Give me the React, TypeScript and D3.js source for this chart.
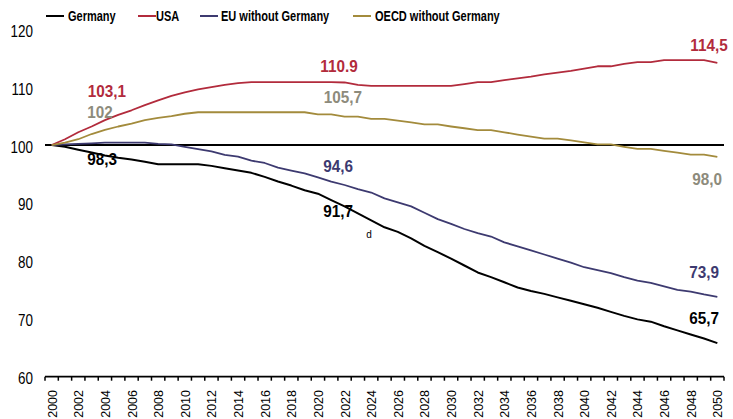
import React from "react";
import * as d3 from "d3";

const years: number[] = d3.range(2000, 2051);

const germany: number[] = [
  100, 99.7, 99.2, 98.7, 98.2, 97.8, 97.5, 97.1, 96.7, 96.7,
  96.7, 96.7, 96.4, 96.0, 95.6, 95.2, 94.5, 93.7, 93.0, 92.2,
  91.6, 90.5, 89.4, 88.2, 87.0, 85.8, 85.0, 83.9, 82.6, 81.5,
  80.4, 79.2, 78.0, 77.2, 76.3, 75.4, 74.8, 74.3, 73.7, 73.1,
  72.5, 71.9, 71.2, 70.5, 69.9, 69.5, 68.7, 68.0, 67.3, 66.6, 65.8,
];

const usa: number[] = [
  100, 101.0, 102.2, 103.2, 104.3, 105.2, 106.0, 106.9, 107.7, 108.5,
  109.1, 109.6, 110.0, 110.4, 110.7, 110.85, 110.85, 110.85, 110.85, 110.85,
  110.85, 110.85, 110.8, 110.4, 110.2, 110.2, 110.2, 110.2, 110.2, 110.2,
  110.2, 110.5, 110.85, 110.85, 111.2, 111.5, 111.8, 112.2, 112.5, 112.8,
  113.2, 113.6, 113.6, 114.0, 114.3, 114.3, 114.65, 114.65, 114.65, 114.65, 114.2,
];

const euWithoutGermany: number[] = [
  100, 100.1, 100.2, 100.3, 100.4, 100.4, 100.4, 100.4, 100.2, 100.1,
  99.7, 99.3, 98.9, 98.3, 98.0, 97.3, 96.9, 96.1, 95.6, 95.1,
  94.4, 93.7, 93.1, 92.4, 91.8, 90.8, 90.1, 89.4, 88.3, 87.2,
  86.4, 85.5, 84.8, 84.2, 83.2, 82.5, 81.8, 81.1, 80.4, 79.7,
  78.9, 78.4, 77.9, 77.2, 76.6, 76.2, 75.6, 75.0, 74.7, 74.2, 73.8,
];

const oecdWithoutGermany: number[] = [
  100, 100.4, 101.0, 101.9, 102.6, 103.2, 103.7, 104.3, 104.7, 105.0,
  105.4, 105.66, 105.66, 105.66, 105.66, 105.66, 105.66, 105.66, 105.66, 105.66,
  105.3, 105.3, 104.9, 104.9, 104.5, 104.5, 104.2, 103.9, 103.55, 103.55,
  103.2, 102.9, 102.56, 102.56, 102.2, 101.8, 101.45, 101.1, 101.1, 100.8,
  100.45, 100.1, 100.1, 99.7, 99.35, 99.35, 99.0, 98.7, 98.35, 98.35, 97.96,
];

const yTicks: number[] = [60, 70, 80, 90, 100, 110, 120];
const xTickYears: number[] = d3.range(2000, 2051, 2);

const seriesNames: string[] = ["Germany", "USA", "EU without Germany", "OECD without Germany"];
const seriesData: number[][] = [germany, usa, euWithoutGermany, oecdWithoutGermany];
const seriesColors: string[] = ["#000000", "#b22b3c", "#3d3a70", "#a38b3c"];
const seriesWidths: number[] = [2, 1.8, 1.8, 1.8];

const annotationTexts: string[] = ["103,1", "102", "98,3", "110.9", "105,7", "94,6", "91,7", "114,5", "98,0", "73,9", "65,7"];
const annotationColors: string[] = [
  "#b22b3c", "#8d8b7c", "#000000", "#b22b3c", "#8d8b7c", "#3d3a70", "#000000",
  "#b22b3c", "#8d8b7c", "#3d3a70", "#000000",
];

// label anchor positions (centre x, baseline y) in pixels
const labelPos: [number, number][] = [
  [107, 97], [100, 118], [102, 165], [339, 72], [343, 103], [338, 172], [338, 217],
  [709, 51], [707, 185], [704, 278], [704, 324],
];

const W = 733;
const H = 419;
const left = 45;
const right = 724;
const yTop = 29.2;
const yBottom = 376.7;
const FONT = "'Liberation Sans', Arial, sans-serif";
const SX = 0.84;

export default function App() {
  const x = d3.scaleBand<number>().domain(years).range([left, right]).paddingInner(0).paddingOuter(0);
  const y = d3.scaleLinear().domain([60, 120]).range([yBottom, yTop]);
  const cx = (yr: number) => (x(yr) as number) + x.bandwidth() / 2;

  const line = d3
    .line<number>()
    .x((_, i) => cx(years[i]))
    .y((d) => y(d));

  const tickPositions = d3.range(0, years.length + 1).map((k) => left + k * x.bandwidth());

  const legendItems = [
    { lx: 46, tx: 68 },
    { lx: 138, tx: 156 },
    { lx: 200, tx: 221 },
    { lx: 353, tx: 375 },
  ];

  return (
    <svg
      width={W}
      height={H}
      style={{ position: "absolute", left: 0, top: 0, background: "#ffffff" }}
      fontFamily={FONT}
    >
      {/* Legend */}
      {seriesNames.map((name, i) => (
        <g key={name}>
          <line
            x1={legendItems[i].lx}
            x2={legendItems[i].lx + 18}
            y1={16}
            y2={16}
            stroke={seriesColors[i]}
            strokeWidth={2}
          />
          <text
            transform={`translate(${legendItems[i].tx},${21}) scale(0.76,1)`}
            fontSize={14.5}
            fontWeight="bold"
            fill="#000"
          >
            {name}
          </text>
        </g>
      ))}

      {/* Y tick labels */}
      {yTicks.map((t) => (
        <text
          key={t}
          transform={`translate(33,${y(t) + 7.5}) scale(${SX},1)`}
          textAnchor="end"
          fontSize={16}
          fill="#000"
        >
          {t}
        </text>
      ))}

      {/* X axis */}
      <line x1={left} x2={right} y1={yBottom} y2={yBottom} stroke="#000" strokeWidth={1.8} />
      {tickPositions.map((p, k) => (
        <line key={k} x1={p} x2={p} y1={yBottom} y2={yBottom + 4} stroke="#000" strokeWidth={1.5} />
      ))}
      {xTickYears.map((yr) => (
        <text
          key={yr}
          transform={`translate(${cx(yr) + 5},390) rotate(-90)`}
          textAnchor="end"
          fontSize={12.5}
          fill="#000"
        >
          {yr}
        </text>
      ))}

      {/* Reference line at 100 */}
      <line x1={left} x2={right} y1={y(100)} y2={y(100)} stroke="#000" strokeWidth={2} />

      {/* Series lines */}
      {seriesData.map((d, i) => (
        <path
          key={seriesNames[i]}
          d={line(d) as string}
          fill="none"
          stroke={seriesColors[i]}
          strokeWidth={seriesWidths[i]}
          strokeLinejoin="round"
        />
      ))}

      {/* Value labels */}
      {annotationTexts.map((t, i) => (
        <text
          key={i}
          transform={`translate(${labelPos[i][0]},${labelPos[i][1]}) scale(0.9,1)`}
          textAnchor="middle"
          fontSize={17}
          fontWeight="bold"
          fill={annotationColors[i]}
        >
          {t}
        </text>
      ))}
      <text x={369} y={238} fontSize={10} textAnchor="middle" fill="#000">
        d
      </text>
    </svg>
  );
}
